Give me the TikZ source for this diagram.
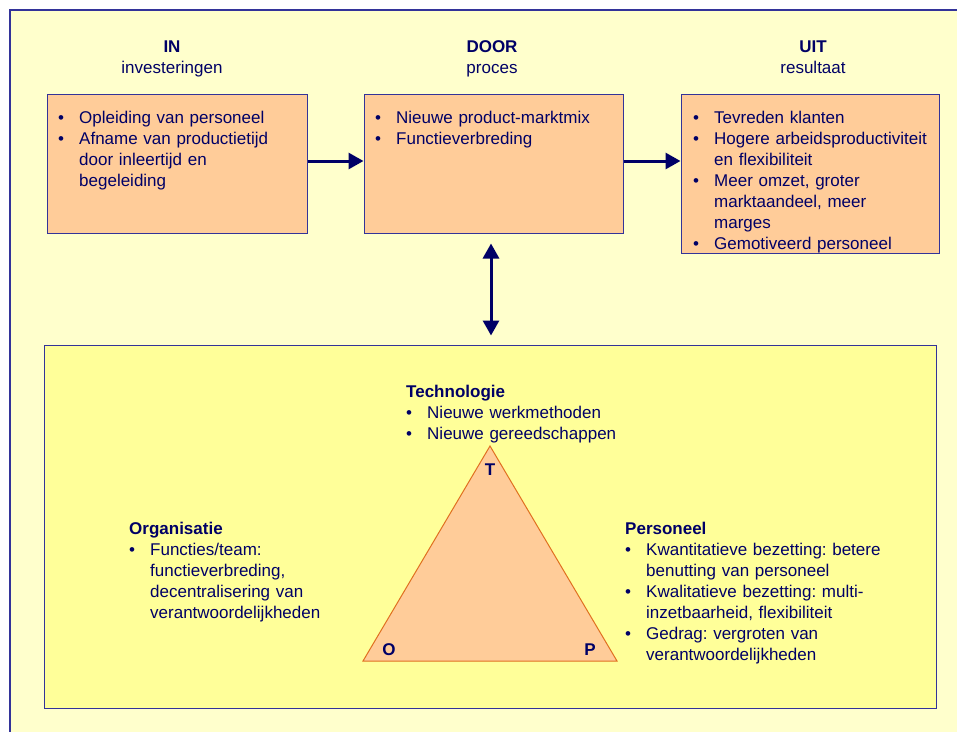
\documentclass[tikz,border=0pt]{standalone}
\usepackage{fontspec}
\setmainfont{Liberation Sans}
\usetikzlibrary{arrows.meta,calc}
\definecolor{marine}{HTML}{000066}
\definecolor{fondclair}{HTML}{FFFFCC}
\definecolor{fondjaune}{HTML}{FFFF99}
\definecolor{saumon}{HTML}{FFCC99}
\definecolor{orangebord}{HTML}{E07020}
\definecolor{bordbleu}{HTML}{333399}
\setlength{\parindent}{0pt}
\frenchspacing
\newcommand{\puce}[1]{\par\noindent\hangindent=21pt\hangafter=1\makebox[21pt][l]{\strut\textbullet}#1\par}
\tikzset{
  x=1pt, y=-1pt,
  boite/.style={draw=bordbleu, fill=saumon, line width=1pt, inner sep=0pt},
  texte/.style={text=marine, font=\fontsize{17}{21}\selectfont, inner sep=0pt, anchor=north west, align=left},
  titre/.style={text=marine, font=\fontsize{17}{21}\selectfont, inner sep=0pt, align=center, anchor=north},
  sommet/.style={text=marine, font=\fontsize{17}{21}\selectfont\bfseries, inner sep=0pt, anchor=base},
  fleche/.style={draw=marine, line width=3pt, -{Triangle[length=15pt,width=16pt]}},
  dubbel/.style={draw=marine, line width=3pt, {Triangle[length=15pt,width=16pt]}-{Triangle[length=15pt,width=16pt]}},
}
\begin{document}
\begin{tikzpicture}
\useasboundingbox (0,0) rectangle (957,731);
\fill[white] (0,0) rectangle (957,731);

% Cadre general
\draw[bordbleu, line width=1.2pt, fill=fondclair] (10,10) rectangle (980,760);

% Titres des colonnes
\node[titre] (intitel) at (172,37.3) {\strut\textbf{IN}\\investeringen};
\node[titre] (doortitel) at (492,37.3) {\strut\textbf{DOOR}\\proces};
\node[titre] (uittitel) at (813,37.3) {\strut\textbf{UIT}\\resultaat};

% Les trois boites
\node[boite, minimum width=260, minimum height=139] (inbox) at (177,163.5) {};
\node[boite, minimum width=259, minimum height=139] (doorbox) at (493.5,163.5) {};
\node[boite, minimum width=258, minimum height=159] (uitbox) at (810,173.5) {};

\node[texte, text width=245] (intekst) at (58,102.3) {%
  \puce{Opleiding van personeel}%
  \puce{Afname van productietijd\newline door inleertijd en\newline begeleiding}};
\node[texte, text width=245] (doortekst) at (375,102.3) {%
  \puce{Nieuwe product-marktmix}%
  \puce{Functieverbreding}};
\node[texte, text width=245] (uittekst) at (693,102.3) {%
  \puce{Tevreden klanten}%
  \puce{Hogere arbeidsproductiviteit\newline en flexibiliteit}%
  \puce{Meer omzet, groter\newline marktaandeel, meer\newline marges}%
  \puce{Gemotiveerd personeel}};

% Fleches
\draw[fleche] ([yshift=2.5pt]inbox.east) -- ([yshift=2.5pt]doorbox.west);
\draw[fleche] ([yshift=2.5pt]doorbox.east) -- ([yshift=2.5pt]doorbox.east -| uitbox.west);

% Cadre du bas
\node[draw=bordbleu, fill=fondjaune, line width=1pt, minimum width=892, minimum height=363, inner sep=0pt] (basis) at (490,526.5) {};
\draw[dubbel, shorten <=10pt, shorten >=9pt] ([xshift=-2.5pt]doorbox.south) -- ([xshift=-2.5pt]doorbox.south |- basis.north);

% Triangle T-O-P
\coordinate (T) at (490,446);
\coordinate (O) at (363,661);
\coordinate (P) at (617,661);
\draw[orangebord, line width=1pt, fill=saumon, line join=miter] (T) -- (O) -- (P) -- cycle;
\node[sommet] (tletter) at (490,475) {T};
\node[sommet] (oletter) at (389,655) {O};
\node[sommet] (pletter) at (590,655) {P};

% Textes autour du triangle
\node[texte, text width=260] (techno) at (406,382.3) {%
  \strut\textbf{Technologie}%
  \puce{Nieuwe werkmethoden}%
  \puce{Nieuwe gereedschappen}};
\node[texte, text width=230] (orga) at (129,519.3) {%
  \strut\textbf{Organisatie}%
  \puce{Functies/team:\newline functieverbreding,\newline decentralisering van\newline verantwoordelijkheden}};
\node[texte, text width=300] (perso) at (625,519.3) {%
  \strut\textbf{Personeel}%
  \puce{Kwantitatieve bezetting: betere\newline benutting van personeel}%
  \puce{Kwalitatieve bezetting: multi-\newline inzetbaarheid, flexibiliteit}%
  \puce{Gedrag: vergroten van\newline verantwoordelijkheden}};
\end{tikzpicture}
\end{document}
